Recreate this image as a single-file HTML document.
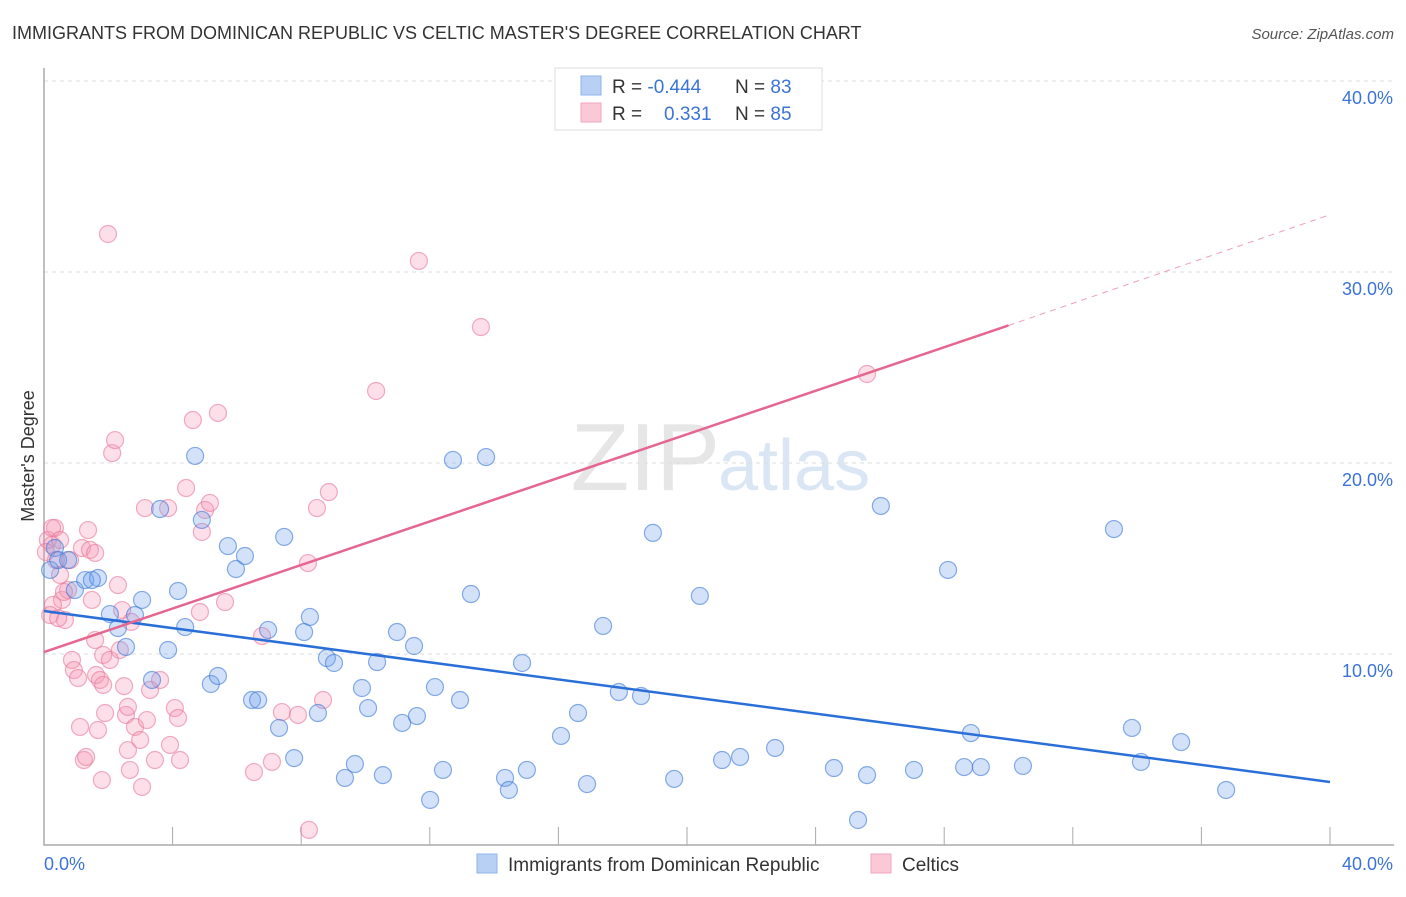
<!DOCTYPE html>
<html><head><meta charset="utf-8"><style>
body{margin:0;background:#fff;font-family:"Liberation Sans",sans-serif;}
svg text{font-family:"Liberation Sans",sans-serif;}
</style></head><body>
<svg id="c" width="1406" height="892">
<text x="12" y="39" font-size="18" fill="#333">IMMIGRANTS FROM DOMINICAN REPUBLIC VS CELTIC MASTER'S DEGREE CORRELATION CHART</text>
<text x="1394" y="39" font-size="15" fill="#555" font-style="italic" text-anchor="end">Source: ZipAtlas.com</text>
<text x="720" y="490" font-size="96" fill="#e6e6e6" font-family="Liberation Serif" text-anchor="end">ZIP</text>
<text x="718" y="490" font-size="72" fill="#dbe6f5">atlas</text>
<g id="grid"></g><g id="axes"></g><g id="pts"></g><g id="lines"></g>
<text transform="translate(34,456) rotate(-90)" font-size="18" fill="#333" text-anchor="middle">Master's Degree</text>
<text x="44" y="870" font-size="18" fill="#3b74d6">0.0%</text>
<text x="1393" y="870" font-size="18" fill="#3b74d6" text-anchor="end">40.0%</text>
<g>
<rect x="555" y="68" width="267" height="62" fill="#fff" stroke="#ddd"/>
<rect x="581" y="76" width="20" height="19" fill="#b7d0f3" stroke="#8fb3e8"/>
<rect x="581" y="103" width="20" height="19" fill="#fbc8d7" stroke="#f2a6be"/>
<text x="612" y="93" font-size="19" fill="#333">R = <tspan fill="#3b74d6">-0.444</tspan><tspan x="735">N = </tspan><tspan fill="#3b74d6">83</tspan></text>
<text x="612" y="120" font-size="19" fill="#333">R = <tspan x="664" fill="#3b74d6">0.331</tspan><tspan x="735">N = </tspan><tspan fill="#3b74d6">85</tspan></text>
</g>
<g>
<rect x="477" y="854" width="20" height="19" fill="#b7d0f3" stroke="#8fb3e8"/>
<text x="508" y="871" font-size="19" fill="#333">Immigrants from Dominican Republic</text>
<rect x="871" y="854" width="20" height="19" fill="#fbc8d7" stroke="#f2a6be"/>
<text x="902" y="871" font-size="19" fill="#333">Celtics</text>
</g>
</svg>
<script>
const yTicks=[10,20,30,40];
const yTickLabels=["10.0%","20.0%","30.0%","40.0%"];
const xTicks=[4,8,12,16,20,24,28,32,36,40];
const bluePx=[[50,570],[55,548],[58,560],[68,560],[75,590],[85,580],[98,578],[92,580],[110,614],[118,628],[126,647],[135,615],[142,600],[152,680],[160,509],[168,650],[178,591],[185,627],[195,456],[202,520],[211,684],[218,676],[228,546],[236,569],[245,556],[252,700],[258,700],[268,630],[279,728],[284,537],[294,758],[304,632],[310,617],[318,713],[327,658],[334,663],[345,778],[355,764],[362,688],[368,708],[377,662],[383,775],[397,632],[402,723],[414,646],[417,716],[430,800],[435,687],[443,770],[453,460],[460,700],[471,594],[486,457],[505,778],[509,790],[522,663],[527,770],[561,736],[578,713],[587,784],[603,626],[619,692],[641,696],[653,533],[674,779],[700,596],[722,760],[740,757],[775,748],[834,768],[858,820],[867,775],[881,506],[914,770],[948,570],[964,767],[971,733],[981,767],[1023,766],[1114,529],[1132,728],[1141,762],[1181,742],[1226,790]];
const pinkPx=[[48,540],[52,545],[55,528],[56,560],[60,575],[62,600],[65,620],[68,590],[70,560],[72,660],[74,670],[78,678],[80,727],[82,548],[84,760],[86,757],[88,530],[92,600],[95,640],[96,675],[98,730],[100,680],[102,780],[103,655],[105,713],[108,234],[110,660],[112,453],[115,440],[118,585],[120,650],[122,610],[124,686],[126,715],[128,707],[128,750],[130,770],[131,622],[135,727],[140,740],[142,787],[145,508],[147,720],[150,690],[155,760],[160,680],[168,508],[170,745],[175,708],[178,718],[180,760],[186,488],[193,420],[200,612],[202,532],[205,510],[210,503],[218,413],[225,602],[254,772],[262,636],[272,762],[282,712],[298,715],[308,563],[309,830],[317,508],[323,700],[329,492],[376,391],[419,261],[481,327],[867,374],[46,552],[50,615],[53,605],[58,618],[64,592],[52,528],[90,550],[95,553],[103,685],[60,540]];
// convert reference pixel readings to data values (% units)
const blueX=bluePx.map(p=>+((p[0]-44)/32.15).toFixed(2));
const blueY=bluePx.map(p=>+((845-p[1])/19.1).toFixed(2));
const pinkX=pinkPx.map(p=>+((p[0]-44)/32.15).toFixed(2));
const pinkY=pinkPx.map(p=>+((845-p[1])/19.1).toFixed(2));
const blueTrend=[[0,12.25],[40,3.3]];
const pinkTrend=[[0,10.1],[30,27.2],[40,33]];
const NS="http://www.w3.org/2000/svg";
const X=v=>44+v*32.15, Y=v=>845-v*19.1;
function mk(t,a,p){const e=document.createElementNS(NS,t);for(const k in a)e.setAttribute(k,a[k]);document.getElementById(p).appendChild(e);return e;}
yTicks.forEach((t,i)=>{
 const g=mk('line',{x1:44,x2:1394,y1:Y(t),y2:Y(t),stroke:'#ddd','stroke-dasharray':'4,4'},'grid');
 
 
 const l=mk('text',{x:1393,y:Y(t)+23,'font-size':18,fill:'#3b74d6','text-anchor':'end'},'grid');
 l.textContent=yTickLabels[i];
 
 
});
const ax=mk('path',{d:'M44 68V845H1394',fill:'none',stroke:'#aaa','stroke-width':1.5},'axes');


xTicks.forEach(t=>{const k=mk('line',{x1:X(t),x2:X(t),y1:827,y2:845,stroke:'#aaa'},'axes');
 
 });
function pts(xs,ys,f,s,name){xs.forEach((x,i)=>{const c=mk('circle',{cx:X(x),cy:Y(ys[i]),r:8.5,fill:f,stroke:s,'stroke-width':1.2},'pts');
 
 });}
pts(pinkX,pinkY,'rgba(245,150,180,0.3)','rgba(232,120,155,0.6)','celtics-point');
pts(blueX,blueY,'rgba(110,160,235,0.3)','rgba(60,120,215,0.6)','dominican-point');
const bl=mk('line',{x1:X(blueTrend[0][0]),y1:Y(blueTrend[0][1]),x2:X(blueTrend[1][0]),y2:Y(blueTrend[1][1]),stroke:'#2a6fd8','stroke-width':2.5},'lines');


const pl=mk('line',{x1:X(pinkTrend[0][0]),y1:Y(pinkTrend[0][1]),x2:X(pinkTrend[1][0]),y2:Y(pinkTrend[1][1]),stroke:'#e5668f','stroke-width':2.5},'lines');


const pd=mk('line',{x1:X(pinkTrend[1][0]),y1:Y(pinkTrend[1][1]),x2:X(pinkTrend[2][0]),y2:Y(pinkTrend[2][1]),stroke:'#eea0b8','stroke-width':1,'stroke-dasharray':'6,5'},'lines');


</script>
</body></html>
